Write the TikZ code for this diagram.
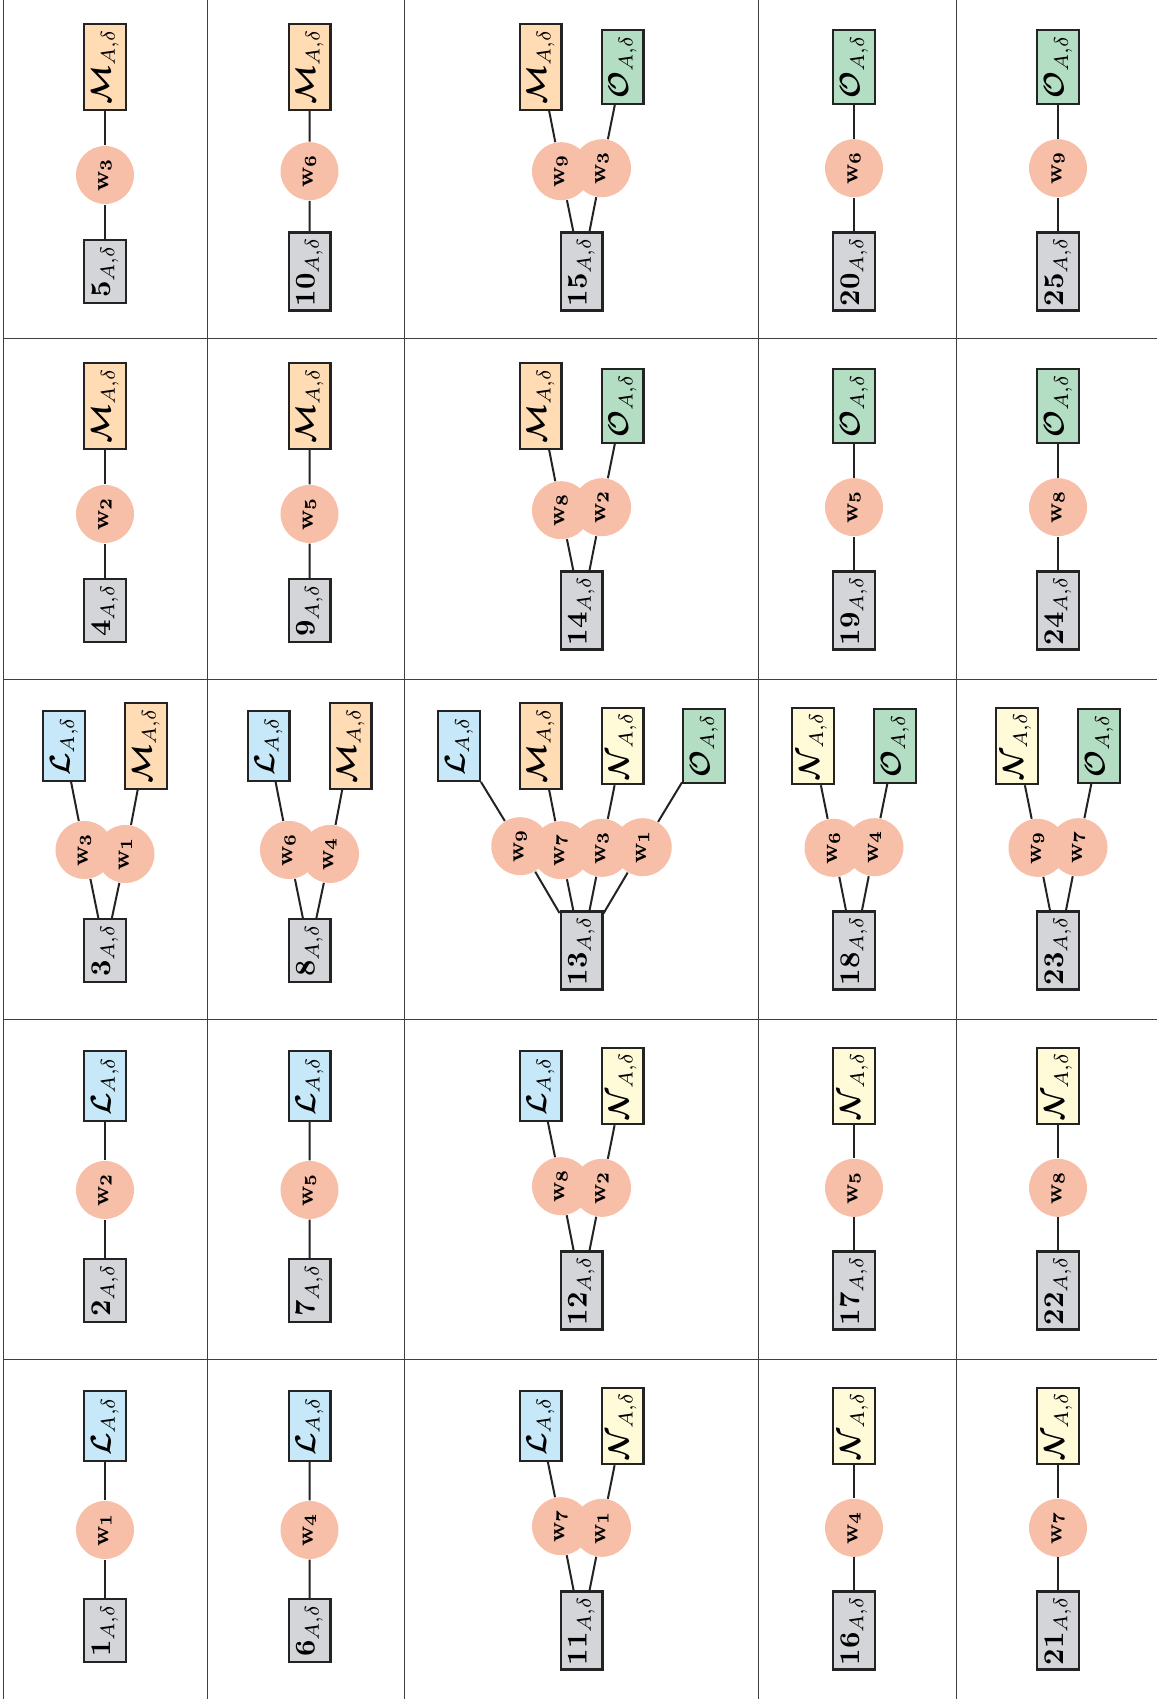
\documentclass[tikz,border=0pt]{standalone}
\usepackage{amsmath}
\usetikzlibrary{calc}
\definecolor{NumGray}{RGB}{212,213,216}
\definecolor{SoftBlue}{RGB}{198,232,248}
\definecolor{SoftPeach}{RGB}{255,220,180}
\definecolor{SoftYellow}{RGB}{255,251,217}
\definecolor{SoftGreen}{RGB}{179,222,195}
\definecolor{Salmon}{RGB}{248,191,168}
\definecolor{EdgeDark}{RGB}{35,35,35}
\newcommand{\setL}{$\boldsymbol{\mathcal{L}}_{A,\delta}$}
\newcommand{\setM}{$\boldsymbol{\mathcal{M}}_{A,\delta}$}
\newcommand{\setN}{$\boldsymbol{\mathcal{N}}_{A,\delta}$}
\newcommand{\setO}{$\boldsymbol{\mathcal{O}}_{A,\delta}$}
\tikzset{
  box/.style={draw=EdgeDark,thick,rotate=90,minimum height=14.6pt,
    inner sep=1.5pt},
  numbox/.style={box,fill=NumGray,minimum width=22pt},
  numwide/.style={box,fill=NumGray,minimum width=26.5pt},
  boxL/.style={box,fill=SoftBlue,minimum width=24.4pt},
  boxM/.style={box,fill=SoftPeach,minimum width=30pt},
  boxN/.style={box,fill=SoftYellow,minimum width=25.8pt},
  boxO/.style={box,fill=SoftGreen,minimum width=25.8pt},
  weight/.style={circle,fill=Salmon,rotate=90,minimum size=20.3pt,
    inner sep=0pt,font=\footnotesize},
  link/.style={line width=0.7pt,EdgeDark},
  grid/.style={line width=0.35pt,black!75}
}

\begin{document}
\begin{tikzpicture}[x=0.35pt,y=-0.35pt]
  \useasboundingbox (0,0) rectangle (1157,1699);
  \draw[grid] (3,0) -- (3,1699) (207,0) -- (207,1699) (404,0) -- (404,1699)
    (758,0) -- (758,1699) (956,0) -- (956,1699);
  \draw[grid] (3,338) -- (1157,338) (3,679) -- (1157,679)
    (3,1019) -- (1157,1019) (3,1359) -- (1157,1359);

  \node[boxM] (t5a) at (105,67) {\setM};
  \node[numbox] (n5) at (105,271.5) {$\mathbf{5}_{A,\delta}$};
  \node[weight] (w5a) at ($(t5a.west)!0.5!(n5.east)$) {$\mathbf{w_3}$};
  \draw[link] (n5) -- (w5a) (w5a) -- (t5a);

  \node[boxM] (t4a) at (105,406) {\setM};
  \node[numbox] (n4) at (105,610.5) {$\mathbf{4}_{A,\delta}$};
  \node[weight] (w4a) at ($(t4a.west)!0.5!(n4.east)$) {$\mathbf{w_2}$};
  \draw[link] (n4) -- (w4a) (w4a) -- (t4a);

  \node[boxL] (t3a) at (64,746) {\setL};
  \node[boxM] (t3b) at (146,746) {\setM};
  \node[numbox] (n3) at (105,950.5) {$\mathbf{3}_{A,\delta}$};
  \node[weight] (w3a) at ($(t3a.west)!0.5!(n3.east)$) {$\mathbf{w_3}$};
  \node[weight] (w3b) at ($(t3b.west)!0.5!(n3.east)$) {$\mathbf{w_1}$};
  \draw[link] (n3) -- (w3a) (w3a) -- (t3a) (n3) -- (w3b) (w3b) -- (t3b);

  \node[boxL] (t2a) at (105,1086) {\setL};
  \node[numbox] (n2) at (105,1290.5) {$\mathbf{2}_{A,\delta}$};
  \node[weight] (w2a) at ($(t2a.west)!0.5!(n2.east)$) {$\mathbf{w_2}$};
  \draw[link] (n2) -- (w2a) (w2a) -- (t2a);

  \node[boxL] (t1a) at (105,1426) {\setL};
  \node[numbox] (n1) at (105,1630.5) {$\mathbf{1}_{A,\delta}$};
  \node[weight] (w1a) at ($(t1a.west)!0.5!(n1.east)$) {$\mathbf{w_1}$};
  \draw[link] (n1) -- (w1a) (w1a) -- (t1a);

  \node[boxM] (t10a) at (309.5,67) {\setM};
  \node[numwide] (n10) at (309.5,271.5) {$\mathbf{10}_{A,\delta}$};
  \node[weight] (w10a) at ($(t10a.west)!0.5!(n10.east)$) {$\mathbf{w_6}$};
  \draw[link] (n10) -- (w10a) (w10a) -- (t10a);

  \node[boxM] (t9a) at (309.5,406) {\setM};
  \node[numbox] (n9) at (309.5,610.5) {$\mathbf{9}_{A,\delta}$};
  \node[weight] (w9a) at ($(t9a.west)!0.5!(n9.east)$) {$\mathbf{w_5}$};
  \draw[link] (n9) -- (w9a) (w9a) -- (t9a);

  \node[boxL] (t8a) at (268.5,746) {\setL};
  \node[boxM] (t8b) at (350.5,746) {\setM};
  \node[numbox] (n8) at (309.5,950.5) {$\mathbf{8}_{A,\delta}$};
  \node[weight] (w8a) at ($(t8a.west)!0.5!(n8.east)$) {$\mathbf{w_6}$};
  \node[weight] (w8b) at ($(t8b.west)!0.5!(n8.east)$) {$\mathbf{w_4}$};
  \draw[link] (n8) -- (w8a) (w8a) -- (t8a) (n8) -- (w8b) (w8b) -- (t8b);

  \node[boxL] (t7a) at (309.5,1086) {\setL};
  \node[numbox] (n7) at (309.5,1290.5) {$\mathbf{7}_{A,\delta}$};
  \node[weight] (w7a) at ($(t7a.west)!0.5!(n7.east)$) {$\mathbf{w_5}$};
  \draw[link] (n7) -- (w7a) (w7a) -- (t7a);

  \node[boxL] (t6a) at (309.5,1426) {\setL};
  \node[numbox] (n6) at (309.5,1630.5) {$\mathbf{6}_{A,\delta}$};
  \node[weight] (w6a) at ($(t6a.west)!0.5!(n6.east)$) {$\mathbf{w_4}$};
  \draw[link] (n6) -- (w6a) (w6a) -- (t6a);

  \node[boxM] (t15a) at (540.5,67) {\setM};
  \node[boxO] (t15b) at (622.5,67) {\setO};
  \node[numwide] (n15) at (581.5,271.5) {$\mathbf{15}_{A,\delta}$};
  \node[weight] (w15a) at ($(t15a.west)!0.5!(n15.east)$) {$\mathbf{w_9}$};
  \node[weight] (w15b) at ($(t15b.west)!0.5!(n15.east)$) {$\mathbf{w_3}$};
  \draw[link] (n15) -- (w15a) (w15a) -- (t15a) (n15) -- (w15b) (w15b) -- (t15b);

  \node[boxM] (t14a) at (540.5,406) {\setM};
  \node[boxO] (t14b) at (622.5,406) {\setO};
  \node[numwide] (n14) at (581.5,610.5) {$\mathbf{14}_{A,\delta}$};
  \node[weight] (w14a) at ($(t14a.west)!0.5!(n14.east)$) {$\mathbf{w_8}$};
  \node[weight] (w14b) at ($(t14b.west)!0.5!(n14.east)$) {$\mathbf{w_2}$};
  \draw[link] (n14) -- (w14a) (w14a) -- (t14a) (n14) -- (w14b) (w14b) -- (t14b);

  \node[boxL] (t13a) at (459,746) {\setL};
  \node[boxM] (t13b) at (540.5,746) {\setM};
  \node[boxN] (t13c) at (622.5,746) {\setN};
  \node[boxO] (t13d) at (704,746) {\setO};
  \node[numwide] (n13) at (581.5,950.5) {$\mathbf{13}_{A,\delta}$};
  \node[weight] (w13a) at ($(t13a.west)!0.5!(n13.east)$) {$\mathbf{w_9}$};
  \node[weight] (w13b) at ($(t13b.west)!0.5!(n13.east)$) {$\mathbf{w_7}$};
  \node[weight] (w13c) at ($(t13c.west)!0.5!(n13.east)$) {$\mathbf{w_3}$};
  \node[weight] (w13d) at ($(t13d.west)!0.5!(n13.east)$) {$\mathbf{w_1}$};
  \draw[link] (n13) -- (w13a) (w13a) -- (t13a) (n13) -- (w13b) (w13b) -- (t13b);
  \draw[link] (n13) -- (w13c) (w13c) -- (t13c) (n13) -- (w13d) (w13d) -- (t13d);

  \node[boxL] (t12a) at (540.5,1086) {\setL};
  \node[boxN] (t12b) at (622.5,1086) {\setN};
  \node[numwide] (n12) at (581.5,1290.5) {$\mathbf{12}_{A,\delta}$};
  \node[weight] (w12a) at ($(t12a.west)!0.5!(n12.east)$) {$\mathbf{w_8}$};
  \node[weight] (w12b) at ($(t12b.west)!0.5!(n12.east)$) {$\mathbf{w_2}$};
  \draw[link] (n12) -- (w12a) (w12a) -- (t12a) (n12) -- (w12b) (w12b) -- (t12b);

  \node[boxL] (t11a) at (540.5,1426) {\setL};
  \node[boxN] (t11b) at (622.5,1426) {\setN};
  \node[numwide] (n11) at (581.5,1630.5) {$\mathbf{11}_{A,\delta}$};
  \node[weight] (w11a) at ($(t11a.west)!0.5!(n11.east)$) {$\mathbf{w_7}$};
  \node[weight] (w11b) at ($(t11b.west)!0.5!(n11.east)$) {$\mathbf{w_1}$};
  \draw[link] (n11) -- (w11a) (w11a) -- (t11a) (n11) -- (w11b) (w11b) -- (t11b);

  \node[boxO] (t20a) at (854,67) {\setO};
  \node[numwide] (n20) at (854,271.5) {$\mathbf{20}_{A,\delta}$};
  \node[weight] (w20a) at ($(t20a.west)!0.5!(n20.east)$) {$\mathbf{w_6}$};
  \draw[link] (n20) -- (w20a) (w20a) -- (t20a);

  \node[boxO] (t19a) at (854,406) {\setO};
  \node[numwide] (n19) at (854,610.5) {$\mathbf{19}_{A,\delta}$};
  \node[weight] (w19a) at ($(t19a.west)!0.5!(n19.east)$) {$\mathbf{w_5}$};
  \draw[link] (n19) -- (w19a) (w19a) -- (t19a);

  \node[boxN] (t18a) at (813,746) {\setN};
  \node[boxO] (t18b) at (895,746) {\setO};
  \node[numwide] (n18) at (854,950.5) {$\mathbf{18}_{A,\delta}$};
  \node[weight] (w18a) at ($(t18a.west)!0.5!(n18.east)$) {$\mathbf{w_6}$};
  \node[weight] (w18b) at ($(t18b.west)!0.5!(n18.east)$) {$\mathbf{w_4}$};
  \draw[link] (n18) -- (w18a) (w18a) -- (t18a) (n18) -- (w18b) (w18b) -- (t18b);

  \node[boxN] (t17a) at (854,1086) {\setN};
  \node[numwide] (n17) at (854,1290.5) {$\mathbf{17}_{A,\delta}$};
  \node[weight] (w17a) at ($(t17a.west)!0.5!(n17.east)$) {$\mathbf{w_5}$};
  \draw[link] (n17) -- (w17a) (w17a) -- (t17a);

  \node[boxN] (t16a) at (854,1426) {\setN};
  \node[numwide] (n16) at (854,1630.5) {$\mathbf{16}_{A,\delta}$};
  \node[weight] (w16a) at ($(t16a.west)!0.5!(n16.east)$) {$\mathbf{w_4}$};
  \draw[link] (n16) -- (w16a) (w16a) -- (t16a);

  \node[boxO] (t25a) at (1058,67) {\setO};
  \node[numwide] (n25) at (1058,271.5) {$\mathbf{25}_{A,\delta}$};
  \node[weight] (w25a) at ($(t25a.west)!0.5!(n25.east)$) {$\mathbf{w_9}$};
  \draw[link] (n25) -- (w25a) (w25a) -- (t25a);

  \node[boxO] (t24a) at (1058,406) {\setO};
  \node[numwide] (n24) at (1058,610.5) {$\mathbf{24}_{A,\delta}$};
  \node[weight] (w24a) at ($(t24a.west)!0.5!(n24.east)$) {$\mathbf{w_8}$};
  \draw[link] (n24) -- (w24a) (w24a) -- (t24a);

  \node[boxN] (t23a) at (1017,746) {\setN};
  \node[boxO] (t23b) at (1099,746) {\setO};
  \node[numwide] (n23) at (1058,950.5) {$\mathbf{23}_{A,\delta}$};
  \node[weight] (w23a) at ($(t23a.west)!0.5!(n23.east)$) {$\mathbf{w_9}$};
  \node[weight] (w23b) at ($(t23b.west)!0.5!(n23.east)$) {$\mathbf{w_7}$};
  \draw[link] (n23) -- (w23a) (w23a) -- (t23a) (n23) -- (w23b) (w23b) -- (t23b);

  \node[boxN] (t22a) at (1058,1086) {\setN};
  \node[numwide] (n22) at (1058,1290.5) {$\mathbf{22}_{A,\delta}$};
  \node[weight] (w22a) at ($(t22a.west)!0.5!(n22.east)$) {$\mathbf{w_8}$};
  \draw[link] (n22) -- (w22a) (w22a) -- (t22a);

  \node[boxN] (t21a) at (1058,1426) {\setN};
  \node[numwide] (n21) at (1058,1630.5) {$\mathbf{21}_{A,\delta}$};
  \node[weight] (w21a) at ($(t21a.west)!0.5!(n21.east)$) {$\mathbf{w_7}$};
  \draw[link] (n21) -- (w21a) (w21a) -- (t21a);
\end{tikzpicture}
\end{document}
